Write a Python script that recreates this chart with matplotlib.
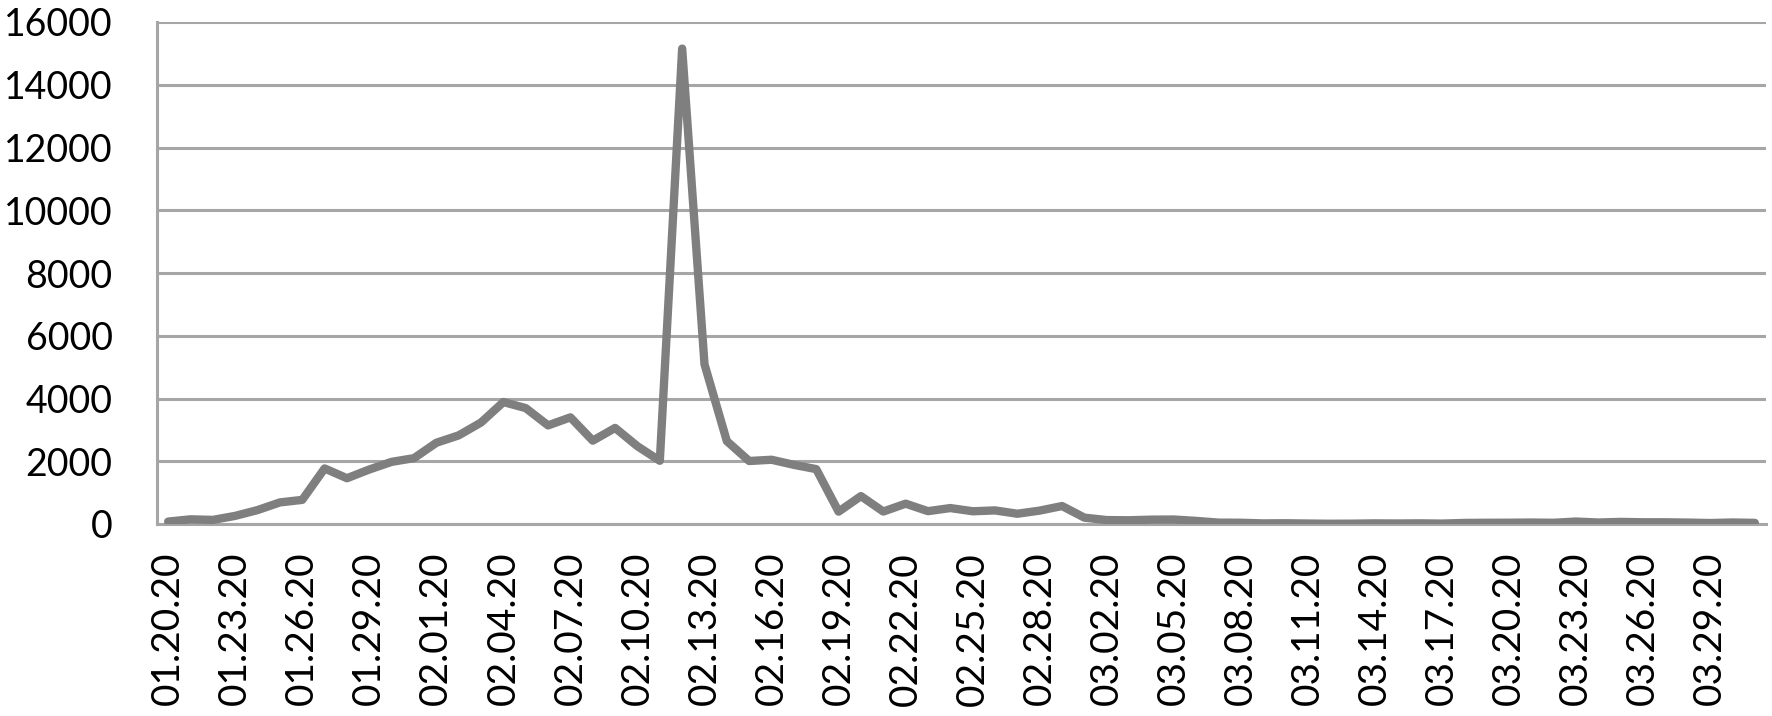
import matplotlib
matplotlib.use("Agg")
import matplotlib.pyplot as plt
import pandas as pd

# daily new cases, 01.20.20 - 03.31.20
dates = pd.date_range("2020-01-20", "2020-03-31", freq="D")
cases = [77, 149, 131, 259, 444, 688, 769, 1771, 1459, 1737, 1981, 2099,
         2589, 2825, 3235, 3887, 3694, 3143, 3399, 2656, 3062, 2478, 2015,
         15152, 5090, 2641, 2008, 2048, 1886, 1749, 394, 889, 397, 648, 409,
         508, 406, 433, 327, 427, 573, 202, 125, 119, 139, 143, 99, 44, 40,
         19, 24, 15, 8, 11, 20, 16, 21, 13, 34, 39, 41, 46, 39, 78, 47, 67,
         55, 54, 45, 31, 48, 36]
labels = [d.strftime("%m.%d.%y") for d in dates]
yticks = [0, 2000, 4000, 6000, 8000, 10000, 12000, 14000, 16000]

plt.rcParams['font.family'] = ['Lato', 'DejaVu Sans']

fig = plt.figure(figsize=(17.72, 7.16), dpi=100)
ax = fig.add_axes([157/1772, 1 - 524/716, (1766-157)/1772, (524-22)/716])

x = list(range(len(cases)))
ax.plot(x, cases, color='#7f7f7f', lw=6, solid_joinstyle='round',
        solid_capstyle='round', zorder=3)

ax.set_xlim(-0.5, len(cases) - 0.5)
ax.set_ylim(0, 16000)
ax.set_yticks(yticks)
ax.set_yticklabels([str(v) for v in yticks], fontsize=27)
ax.set_xticks(x[::3])
ax.set_xticklabels(labels[::3], rotation=90, fontsize=28)
ax.tick_params(axis='y', length=0, pad=32)
ax.tick_params(axis='x', length=0, pad=20)

ax.grid(axis='y', color='#a6a6a6', lw=2.2, zorder=0)
for s in ['top', 'right']:
    ax.spines[s].set_visible(False)
ax.spines['left'].set_color('#a6a6a6')
ax.spines['left'].set_linewidth(2.2)
ax.spines['bottom'].set_color('#a6a6a6')
ax.spines['bottom'].set_linewidth(2.2)

fig.savefig("out.png", dpi=100, facecolor='white')
